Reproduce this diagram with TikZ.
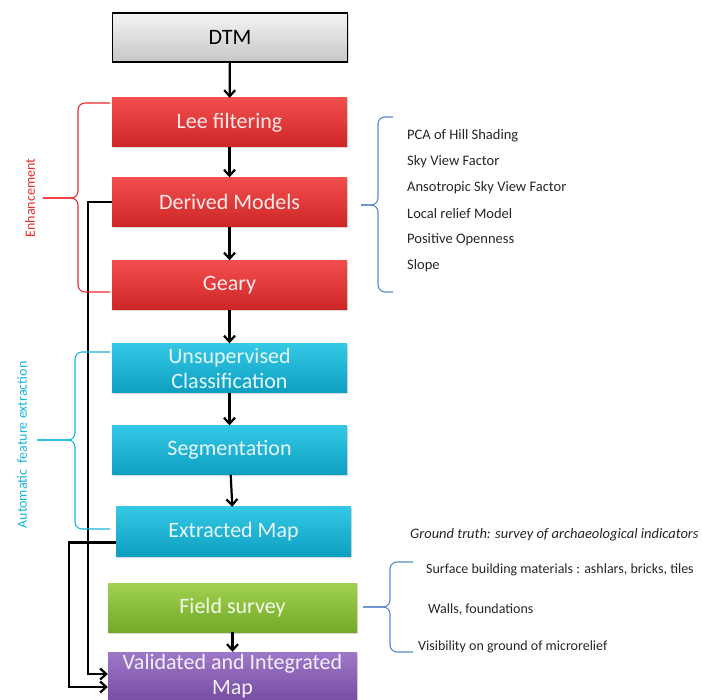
\documentclass[tikz,border=0pt]{standalone}
\usepackage{fontspec}
\setmainfont{Carlito}
\usetikzlibrary{
  positioning,
  arrows.meta,
  shadows
}
\definecolor{dmGray}{HTML}{F4F4F4}
\definecolor{dmGrayD}{HTML}{C6C6C6}
\definecolor{dmRed}{HTML}{F24E4E}
\definecolor{dmRedD}{HTML}{CE2626}
\definecolor{dmCyan}{HTML}{34C8E6}
\definecolor{dmCyanD}{HTML}{0E9FC0}
\definecolor{dmGreen}{HTML}{A0D250}
\definecolor{dmGreenD}{HTML}{74A828}
\definecolor{dmPurple}{HTML}{9E78C8}
\definecolor{dmPurpleD}{HTML}{784EA4}
\definecolor{dmBrace}{HTML}{5A8AC6}
\definecolor{dmLblRed}{HTML}{EE2A2A}
\definecolor{dmLblCyan}{HTML}{18B6DC}

\begin{document}
\begin{tikzpicture}[
  x=1pt, y=-1pt,
  every node/.style={align=center, inner sep=2pt},
  stagebox/.style={
    rectangle, minimum width=235pt, minimum height=49pt,
    font=\fontsize{22}{25}\selectfont,
    drop shadow={opacity=0.3, shadow xshift=1pt, shadow yshift=-1.5pt}
  },
  dtmbox/.style={stagebox, draw=black, line width=1.2pt, top color=dmGray, bottom color=dmGrayD, text=black},
  enhbox/.style={stagebox, top color=dmRed, bottom color=dmRedD, text=white!88!dmRed},
  extbox/.style={stagebox, top color=dmCyan, bottom color=dmCyanD, text=white!88!dmCyan},
  fieldbox/.style={stagebox, minimum width=249pt, top color=dmGreen, bottom color=dmGreenD, text=white!88!dmGreen},
  mapbox/.style={stagebox, minimum width=249pt, minimum height=48pt, top color=dmPurple, bottom color=dmPurpleD, text=white!88!dmPurple},
  arrow/.style={-{Straight Barb[length=6pt, width=11pt]}, line width=2.2pt},
  curly/.style={rounded corners=7pt, line width=1.1pt},
  sidelabel/.style={font=\fontsize{14}{16}\selectfont, rotate=90},
  listtext/.style={font=\fontsize{14.5}{17}\selectfont, anchor=west, text=black!85},
  truthtext/.style={listtext, font=\fontsize{14}{17}\selectfont}
]
 \useasboundingbox (0,0) rectangle (702,700);

 % Main chain
 \node[dtmbox] (dtm) at (230,37.5) {DTM};
 \node[enhbox] (lee) at (229.5,122.5) {Lee filtering};
 \node[enhbox] (derived) at (229.5,202) {Derived Models};
 \node[enhbox] (geary) at (229.5,285) {Geary};
 \node[extbox] (unsup) at (229.5,368) {Unsupervised\\Classification};
 \node[extbox] (seg) at (229.5,450) {Segmentation};
 \node[extbox] (extracted) at (233.5,531.5) {Extracted Map};
 \node[fieldbox] (field) at (232.5,607.5) {Field survey};
 \node[mapbox] (valid) at (232.5,676) {Validated and Integrated\\Map};

 \draw[arrow] (dtm) -- (lee);
 \draw[arrow] (lee) -- (derived);
 \draw[arrow] (derived) -- (geary);
 \draw[arrow] (geary) -- (unsup);
 \draw[arrow] (unsup) -- (seg);
 \draw[arrow] (seg) -- (extracted);
 \draw[arrow] (field) -- (valid);

 % Bypass lines to the final map
 \draw[arrow] (derived.west) -- ++(-24,0) |- ([yshift=2pt]valid.west);
 \draw[arrow] ([yshift=-11pt]extracted.west) -- ++(-47,0) |- ([yshift=-11pt]valid.west);

 % Enhancement
 \draw[curly, dmLblRed] (110,103) -- (78,103) -- (78,198) -- (43,198);
 \draw[curly, dmLblRed] (110,292) -- (78,292) -- (78,198) -- (43,198);
 \node[sidelabel, text=dmLblRed] (enhlabel) at (30,198) {Enhancement};

 % Automatic feature extraction
 \draw[curly, dmLblCyan] (110,352) -- (75,352) -- (75,440) -- (37,440);
 \draw[curly, dmLblCyan] (110,529) -- (75,529) -- (75,440) -- (37,440);
 \node[sidelabel, text=dmLblCyan] (autolabel) at (22,445) {Automatic\ \ feature extraction};

 % Derived models list
 \draw[curly, dmBrace] (393,117) -- (378,117) -- (378,205) -- (361,205);
 \draw[curly, dmBrace] (393,292) -- (378,292) -- (378,205) -- (361,205);
 \node[listtext] (pca) at (405,136) {PCA of Hill Shading};
 \node[listtext] (svf) at (405,162) {Sky View Factor};
 \node[listtext] (asvf) at (405,188) {Ansotropic Sky View Factor};
 \node[listtext] (lrm) at (405,214) {Local relief Model};
 \node[listtext] (openness) at (405,240) {Positive Openness};
 \node[listtext] (slope) at (405,266) {Slope};

 % Ground truth list
 \node[truthtext, font=\fontsize{14.5}{17}\selectfont\itshape] (truth) at (408,535) {Ground truth: survey of archaeological indicators};
 \draw[curly, dmBrace] (413,562) -- (390,562) -- (390,607) -- (363,607);
 \draw[curly, dmBrace] (413,652) -- (390,652) -- (390,607) -- (363,607);
 \node[truthtext] (surface) at (424,570) {Surface building materials : ashlars, bricks, tiles};
 \node[truthtext] (walls) at (426,610) {Walls, foundations};
 \node[truthtext] (visibility) at (416,647) {Visibility on ground of microrelief};
\end{tikzpicture}
\end{document}
